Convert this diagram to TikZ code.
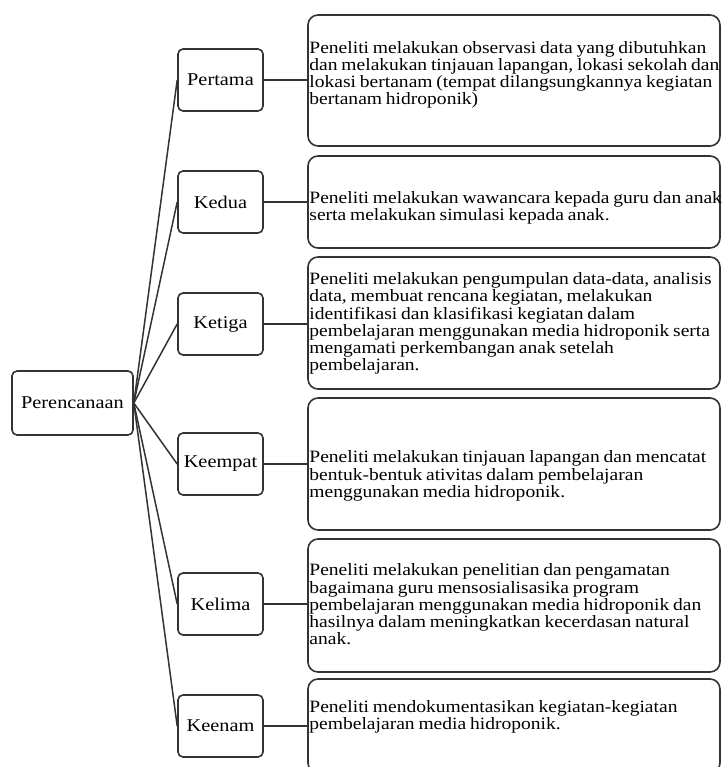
\documentclass[tikz,border=0pt]{standalone}
\usepackage{fontspec}
\setmainfont{Liberation Serif}[FakeStretch=1.13]
\newcommand\mytxtfont{\fontsize{17.3}{17.2}\selectfont\spaceskip 0.22em plus 0.1em minus 0.05em\relax}
\begin{document}
\begin{tikzpicture}[x=1pt,y=-1pt,
  line/.style={draw=black!80,line width=1.6pt},
  mid/.style={line,rounded corners=5pt,minimum width=85pt,minimum height=62pt,inner sep=0pt,font=\fontsize{18}{18}\selectfont},
  big/.style={line,rounded corners=10pt,minimum width=412pt,inner sep=0pt},
  txt/.style={anchor=west,inner sep=0pt,align=left,font=\mytxtfont},
  conn/.style={line,line width=1.5pt}]
\clip (0,0) rectangle (722,767);
\fill[white] (0,0) rectangle (722,767);
% root
\node[mid,minimum width=121pt,minimum height=64pt] (root) at (72.5,403) {Perencanaan};
% middle
\node[mid] (m1) at (220.5,80) {Pertama};
\node[mid] (m2) at (220.5,202) {Kedua};
\node[mid] (m3) at (220.5,324) {Ketiga};
\node[mid] (m4) at (220.5,464) {Keempat};
\node[mid] (m5) at (220.5,604) {Kelima};
\node[mid] (m6) at (220.5,726) {Keenam};
% right boxes
\node[big,minimum height=131pt] (b1) at (514,80.5) {};
\node[big,minimum height=92pt] (b2) at (514,202) {};
\node[big,minimum height=132pt] (b3) at (514,323) {};
\node[big,minimum height=132pt] (b4) at (514,464) {};
\node[big,minimum height=133pt] (b5) at (514,605.5) {};
\node[big,minimum height=94pt] (b6) at (514,726) {};
% texts
\node[txt] (t1) at ([xshift=2pt]b1.west |- 0,75) {Peneliti melakukan observasi data yang dibutuhkan\\dan melakukan tinjauan lapangan, lokasi sekolah dan\\lokasi bertanam (tempat dilangsungkannya kegiatan\\bertanam hidroponik)};
\node[txt] (t2) at ([xshift=2pt]b2.west |- 0,208) {Peneliti melakukan wawancara kepada guru dan anak\\serta melakukan simulasi kepada anak.};
\node[txt] (t3) at ([xshift=2pt]b3.west |- 0,323.5) {Peneliti melakukan pengumpulan data-data, analisis\\data, membuat rencana kegiatan, melakukan\\identifikasi dan klasifikasi kegiatan dalam\\pembelajaran menggunakan media hidroponik serta\\mengamati perkembangan anak setelah\\pembelajaran.};
\node[txt] (t4) at ([xshift=2pt]b4.west |- 0,476) {Peneliti melakukan tinjauan lapangan dan mencatat\\bentuk-bentuk ativitas dalam pembelajaran\\menggunakan media hidroponik.};
\node[txt] (t5) at ([xshift=2pt]b5.west |- 0,604.5) {Peneliti melakukan penelitian dan pengamatan\\bagaimana guru mensosialisasika program\\pembelajaran menggunakan media hidroponik dan\\hasilnya dalam meningkatkan kecerdasan natural\\anak.};
\node[txt] (t6) at ([xshift=2pt]b6.west |- 0,717) {Peneliti mendokumentasikan kegiatan-kegiatan\\pembelajaran media hidroponik.};
% connectors
\foreach \i in {1,...,6}{
  \draw[conn] (root.east) -- (m\i.west);
  \draw[conn] (m\i.east) -- (m\i.east -| b\i.west);
}
\end{tikzpicture}
\end{document}
